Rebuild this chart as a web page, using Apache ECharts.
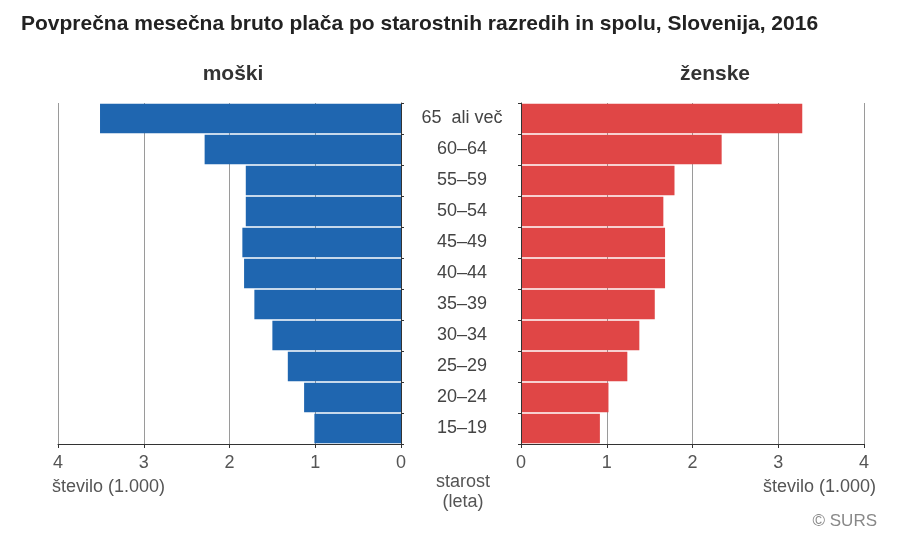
<!DOCTYPE html>
<html>
<head>
<meta charset="utf-8">
<script src="https://cdn.jsdelivr.net/npm/echarts@6/dist/echarts.min.js"></script>
<style>
html, body { margin: 0; padding: 0; background: #fff; }
#chart { width: 897px; height: 536px; }
</style>
</head>
<body>
<div id="chart"></div>
<script>
// starostni razredi, od spodaj navzgor
var starost = ['15–19', '20–24', '25–29', '30–34', '35–39', '40–44', '45–49', '50–54', '55–59', '60–64', '65  ali več'];
// bruto plača v 1.000 EUR
var moski = [1.01, 1.13, 1.32, 1.50, 1.71, 1.83, 1.85, 1.81, 1.81, 2.29, 3.51];
var zenske = [0.92, 1.02, 1.24, 1.38, 1.56, 1.68, 1.68, 1.66, 1.79, 2.34, 3.28];
var xTicks = [0, 1, 2, 3, 4];

var font = 'Liberation Sans, Arial, sans-serif';
var myChart = echarts.init(document.getElementById('chart'));

function valueAxis(idx, inverse) {
	return {
		type: 'value',
		gridIndex: idx,
		inverse: inverse,
		min: xTicks[0],
		max: xTicks[xTicks.length - 1],
		interval: 1,
		z: 0,
		axisLine: { show: true, lineStyle: { color: '#333', width: 1 } },
		axisTick: { show: true, length: 4, lineStyle: { color: '#333' } },
		axisLabel: { color: '#555', fontSize: 18, fontFamily: font, margin: 10 },
		splitLine: { show: true, lineStyle: { color: '#9a9a9a', width: 1 } }
	};
}

function catAxis(idx, pos, showLabel) {
	return {
		type: 'category',
		gridIndex: idx,
		position: pos,
		data: starost,
		z: 10,
		axisLine: { show: true, lineStyle: { color: '#333', width: 1 } },
		axisTick: { show: true, length: 3, lineStyle: { color: '#333' } },
		axisLabel: {
			show: showLabel,
			color: '#444',
			fontSize: 18,
			fontFamily: font,
			align: 'center',
			margin: 61
		}
	};
}

option = {
	animation: false,
	backgroundColor: '#fff',
	title: {
		text: 'Povprečna mesečna bruto plača po starostnih razredih in spolu, Slovenija, 2016',
		left: 16,
		top: 9,
		textStyle: { fontSize: 21, fontWeight: 'bold', color: '#222', fontFamily: font }
	},
	grid: [
		{ left: 58, right: 496, top: 103, bottom: 92 },
		{ left: 521, right: 33, top: 103, bottom: 92 }
	],
	xAxis: [valueAxis(0, true), valueAxis(1, false)],
	yAxis: [catAxis(0, 'right', true), catAxis(1, 'left', false)],
	series: [
		{
			name: 'moški',
			type: 'bar',
			xAxisIndex: 0,
			yAxisIndex: 0,
			z: 5,
			data: moski,
			barCategoryGap: '5%',
			itemStyle: { color: '#1f66b0' }
		},
		{
			name: 'ženske',
			type: 'bar',
			xAxisIndex: 1,
			yAxisIndex: 1,
			z: 5,
			data: zenske,
			barCategoryGap: '5%',
			itemStyle: { color: '#e04646' }
		}
	],
	graphic: [
		{ type: 'text', x: 233, y: 74, style: { text: 'moški', font: 'bold 21px ' + font, fill: '#333', textAlign: 'center', textVerticalAlign: 'middle' } },
		{ type: 'text', x: 715, y: 74, style: { text: 'ženske', font: 'bold 21px ' + font, fill: '#333', textAlign: 'center', textVerticalAlign: 'middle' } },
		{ type: 'text', x: 52, y: 487, style: { text: 'število (1.000)', font: '18px ' + font, fill: '#555', textVerticalAlign: 'middle' } },
		{ type: 'text', x: 876, y: 487, style: { text: 'število (1.000)', font: '18px ' + font, fill: '#555', textAlign: 'right', textVerticalAlign: 'middle' } },
		{ type: 'text', x: 463, y: 482, style: { text: 'starost', font: '18px ' + font, fill: '#555', textAlign: 'center', textVerticalAlign: 'middle' } },
		{ type: 'text', x: 463, y: 502, style: { text: '(leta)', font: '18px ' + font, fill: '#555', textAlign: 'center', textVerticalAlign: 'middle' } },
		{ type: 'text', x: 877, y: 521, style: { text: '© SURS', font: '17px ' + font, fill: '#888', textAlign: 'right', textVerticalAlign: 'middle' } }
	]
};
myChart.setOption(option);
</script>
</body>
</html>
